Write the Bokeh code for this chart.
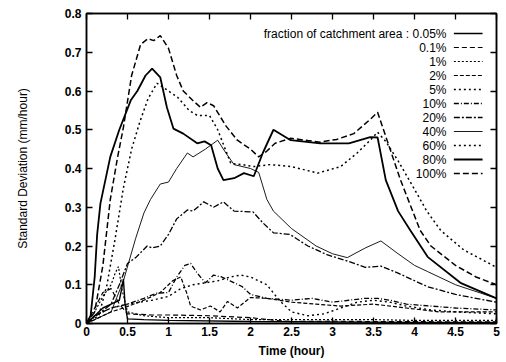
from bokeh.plotting import figure
from bokeh.models import LinearAxis, Range1d, Label, FixedTicker
from bokeh.embed import file_html
from bokeh.resources import INLINE

# ---- data ----
t_100 = [0,0.1,0.2,0.29,0.38,0.45,0.55,0.66,0.75,0.82,0.9,1.0,1.1,1.18,1.3,1.39,1.47,1.55,1.7,1.84,2.0,2.1,2.2,2.3,2.49,2.7,2.85,3.05,3.26,3.45,3.55,3.67,3.83,4.07,4.2,4.5,4.75,5.0]
sd_100 = [0,0.03,0.15,0.32,0.43,0.506,0.64,0.72,0.735,0.73,0.743,0.71,0.64,0.6,0.575,0.558,0.57,0.562,0.51,0.473,0.45,0.43,0.445,0.465,0.478,0.472,0.468,0.475,0.49,0.525,0.545,0.47,0.37,0.24,0.2,0.15,0.12,0.10]

t_80 = [0,0.05,0.1,0.13,0.17,0.29,0.4,0.54,0.62,0.72,0.8,0.9,0.98,1.06,1.18,1.35,1.44,1.52,1.6,1.67,1.8,1.92,2.04,2.15,2.28,2.49,2.85,3.2,3.46,3.55,3.65,3.8,3.95,4.16,4.56,5.0]
sd_80 = [0,0.02,0.12,0.23,0.31,0.43,0.5,0.576,0.6,0.64,0.658,0.635,0.558,0.503,0.49,0.465,0.47,0.46,0.4,0.37,0.375,0.388,0.38,0.44,0.5,0.473,0.465,0.465,0.481,0.48,0.37,0.29,0.24,0.172,0.105,0.065]

t_60 = [0,0.15,0.25,0.35,0.45,0.55,0.65,0.75,0.86,1.0,1.11,1.25,1.35,1.5,1.6,1.76,1.9,2.04,2.24,2.5,2.82,3.1,3.3,3.46,3.55,3.65,3.8,3.99,4.15,4.32,4.6,5.0]
sd_60 = [0,0.02,0.1,0.22,0.35,0.45,0.52,0.58,0.62,0.6,0.584,0.55,0.537,0.537,0.5,0.413,0.41,0.405,0.41,0.405,0.388,0.405,0.44,0.473,0.494,0.47,0.42,0.35,0.29,0.24,0.19,0.145]

t_40 = [0,0.3,0.45,0.6,0.7,0.78,0.9,1.0,1.1,1.23,1.3,1.45,1.6,1.7,1.8,2.0,2.1,2.2,2.28,2.5,2.8,3.0,3.18,3.4,3.59,3.8,4.0,4.16,4.5,5.0]
sd_40 = [0,0.03,0.11,0.22,0.285,0.32,0.36,0.365,0.4,0.44,0.43,0.45,0.473,0.44,0.41,0.4,0.39,0.32,0.29,0.245,0.2,0.18,0.17,0.195,0.213,0.18,0.15,0.134,0.1,0.065]

t_20 = [0,0.3,0.4,0.5,0.6,0.74,0.8,0.9,1.0,1.1,1.23,1.3,1.43,1.55,1.67,1.8,2.03,2.15,2.28,2.48,2.7,2.94,3.2,3.4,3.59,3.8,4.16,4.5,5.0]
sd_20 = [0,0.05,0.1,0.155,0.17,0.2,0.195,0.2,0.23,0.27,0.293,0.29,0.314,0.3,0.314,0.29,0.288,0.26,0.234,0.23,0.2,0.177,0.16,0.145,0.148,0.13,0.095,0.075,0.055]

t_10 = [0,0.1,0.3,0.5,0.7,0.85,1.0,1.1,1.2,1.27,1.35,1.45,1.55,1.65,1.75,1.9,2.0,2.2,2.5,2.75,3.0,3.2,3.4,3.55,3.7,3.9,4.2,4.5,5.0]
sd_10 = [0,0.02,0.04,0.05,0.065,0.078,0.08,0.12,0.15,0.155,0.13,0.105,0.125,0.12,0.11,0.095,0.075,0.065,0.06,0.065,0.055,0.06,0.065,0.065,0.06,0.05,0.045,0.04,0.035]

t_5 = [0,0.1,0.3,0.5,0.8,1.0,1.15,1.3,1.45,1.6,1.75,1.88,2.0,2.2,2.35,2.5,2.7,2.9,3.1,3.3,3.5,3.7,3.9,4.2,4.5,5.0]
sd_5 = [0,0.02,0.04,0.05,0.06,0.07,0.09,0.1,0.105,0.11,0.12,0.125,0.12,0.1,0.06,0.03,0.02,0.025,0.04,0.055,0.06,0.055,0.045,0.035,0.03,0.025]

t_2 = [0,0.3,0.45,0.7,0.9,1.05,1.15,1.22,1.27,1.39,1.51,1.63,1.72,1.84,2.0,2.2,2.5,2.8,3.1,3.5,3.9,4.3,5.0]
sd_2 = [0,0.03,0.04,0.06,0.08,0.11,0.12,0.08,0.045,0.035,0.045,0.03,0.057,0.04,0.067,0.065,0.055,0.05,0.045,0.05,0.04,0.03,0.03]

t_1 = [0,0.1,0.2,0.3,0.35,0.39,0.43,0.5,0.7,1.0,1.5,2.0,2.5,3.0,3.5,4.0,4.5,5.0]
sd_1 = [0,0.03,0.07,0.1,0.13,0.147,0.09,0.03,0.02,0.015,0.015,0.01,0.01,0.01,0.01,0.008,0.008,0.008]

t_01 = [0,0.1,0.2,0.3,0.4,0.5,0.8,1.0,1.5,2.0,2.3,2.5,3.0,3.5,4.0,4.5,5.0]
sd_01 = [0,0.04,0.08,0.09,0.05,0.025,0.022,0.022,0.02,0.015,0.008,0.005,0.006,0.005,0.005,0.004,0.004]

t_005 = [0,0.1,0.2,0.3,0.4,0.43,0.45,0.47,0.5,0.7,1.0,2.0,3.0,4.0,5.0]
sd_005 = [0,0.02,0.04,0.05,0.06,0.09,0.115,0.05,0.012,0.01,0.008,0.005,0.004,0.003,0.003]

labels = ["fraction of catchment area : 0.05%", "0.1%", "1%", "2%", "5%", "10%",
          "20%", "40%", "60%", "80%", "100%"]
x_ticks = [0, 0.5, 1, 1.5, 2, 2.5, 3, 3.5, 4, 4.5, 5]
y_ticks = [0, 0.1, 0.2, 0.3, 0.4, 0.5, 0.6, 0.7, 0.8]

series = [
    (t_005, sd_005, dict(line_dash="solid", line_width=1.4)),
    (t_01, sd_01, dict(line_dash="5 3", line_width=1.2)),
    (t_1, sd_1, dict(line_dash="2 2", line_width=1.2)),
    (t_2, sd_2, dict(line_dash="4 2", line_width=1.2)),
    (t_5, sd_5, dict(line_dash="2 3", line_width=1.4)),
    (t_10, sd_10, dict(line_dash="5 2 1 2", line_width=1.3)),
    (t_20, sd_20, dict(line_dash="6 2 2 2", line_width=1.3)),
    (t_40, sd_40, dict(line_dash="solid", line_width=0.9)),
    (t_60, sd_60, dict(line_dash="2 3", line_width=1.5)),
    (t_80, sd_80, dict(line_dash="solid", line_width=1.8)),
    (t_100, sd_100, dict(line_dash="6 3", line_width=1.5)),
]

FONT = "Liberation Sans"

p = figure(frame_width=410, frame_height=310, output_backend="svg", toolbar_location=None,
           x_range=Range1d(0, 5), y_range=Range1d(0, 0.8),
           min_border_left=86, min_border_right=8, min_border_top=13, min_border_bottom=0)
p.background_fill_color = "white"
p.border_fill_color = "white"
p.grid.visible = False
p.outline_line_color = "black"
p.outline_line_width = 1.5

for ax in [p.xaxis[0], p.yaxis[0]]:
    ax.major_tick_in = 6
    ax.major_tick_out = 0
    ax.minor_tick_in = 0
    ax.minor_tick_out = 0
    ax.axis_line_width = 1.5
    ax.major_tick_line_width = 1.3
    ax.major_label_text_font = FONT
    ax.major_label_text_font_style = "bold"
    ax.major_label_text_font_size = "12px"
    ax.major_label_text_color = "black"
    ax.axis_label_text_font = FONT
    ax.axis_label_text_font_size = "12px"
    ax.axis_label_text_color = "black"

p.xaxis[0].ticker = FixedTicker(ticks=x_ticks)
p.yaxis[0].ticker = FixedTicker(ticks=y_ticks)
p.xaxis[0].major_label_overrides = {v: ("%g" % v) for v in x_ticks}
p.yaxis[0].major_label_overrides = {v: ("%g" % v) for v in y_ticks}
p.xaxis[0].axis_label = "Time (hour)"
p.xaxis[0].axis_label_text_font_style = "bold"
p.xaxis[0].axis_label_standoff = 5
p.xaxis[0].major_label_standoff = 3
p.yaxis[0].axis_label = "Standard Deviation (mm/hour)"
p.yaxis[0].axis_label_text_font_style = "normal"
p.yaxis[0].axis_label_standoff = 32
p.yaxis[0].major_label_standoff = 5

top = LinearAxis(ticker=FixedTicker(ticks=x_ticks))
right = LinearAxis(ticker=FixedTicker(ticks=y_ticks))
top.major_label_overrides = {v: "" for v in x_ticks}
right.major_label_overrides = {v: "" for v in y_ticks}
for ax in [top, right]:
    ax.major_tick_in = 6
    ax.major_tick_out = 0
    ax.minor_tick_in = 0
    ax.minor_tick_out = 0
    ax.major_tick_line_width = 1.3
    ax.axis_line_width = 1.5
    ax.major_label_standoff = 0
p.add_layout(top, "above")
p.add_layout(right, "right")

for t, sd, style in series:
    p.line(t, sd, line_color="black", **style)

# legend (text right-aligned, sample line to its right), as in the reference
leg_text_x = 4.39
leg_x0, leg_x1 = 4.48, 4.83
for i, (lab, (_, _, style)) in enumerate(zip(labels, series)):
    y = 0.8 - (20 + 14 * i) / 387.5
    p.add_layout(Label(x=leg_text_x, y=y, text=lab, text_align="right",
                       text_baseline="middle", text_font=FONT,
                       text_font_size="12px", text_color="black"))
    p.segment(x0=[leg_x0], y0=[y], x1=[leg_x1], y1=[y], line_color="black", **style)

open("out.html", "w").write(file_html(p, INLINE))
